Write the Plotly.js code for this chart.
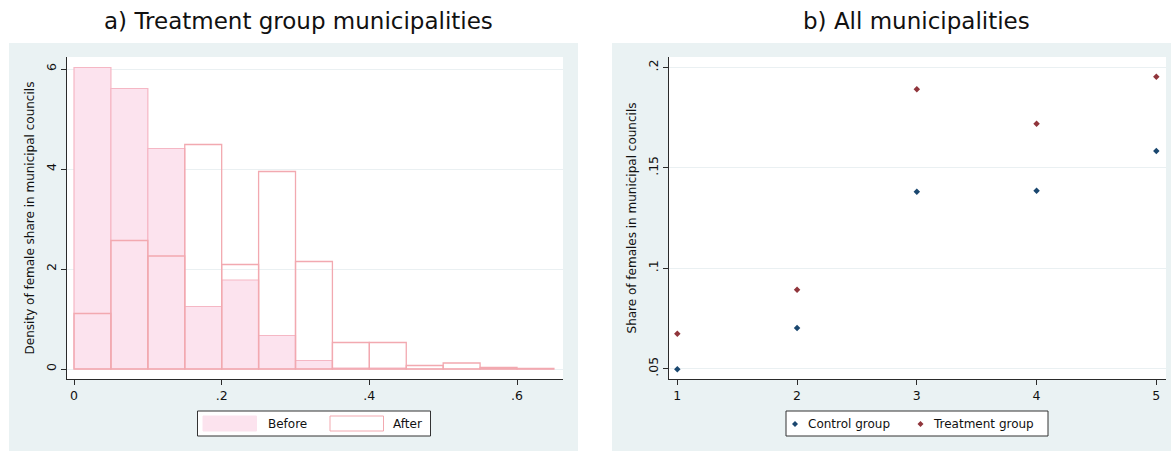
<!DOCTYPE html>
<html>
<head>
<meta charset="utf-8">
<script src="https://cdn.plot.ly/plotly-3.0.1.min.js"></script>
<style>html,body{margin:0;padding:0;background:#fff;}#chart{width:1171px;height:453px;}</style>
</head>
<body>
<div id="chart"></div>
<script>
// ---- data ----
const binLeft = [0, 0.05, 0.10, 0.15, 0.20, 0.25, 0.30, 0.35, 0.40, 0.45, 0.50, 0.55, 0.60];
const densityBefore = [6.03, 5.61, 4.41, 1.25, 1.78, 0.67, 0.17, 0.02, 0.02, 0, 0, 0, 0];
const densityAfter  = [1.11, 2.57, 2.26, 4.49, 2.09, 3.95, 2.15, 0.53, 0.53, 0.07, 0.12, 0.03, 0.01];
const binWidth = 0.05;

const periods = [1, 2, 3, 4, 5];
const controlShare   = [0.0497, 0.0703, 0.1381, 0.1386, 0.1583];
const treatmentShare = [0.0674, 0.0893, 0.1891, 0.1719, 0.1953];

const histTickVals = [0, 0.2, 0.4, 0.6];
const histTickText = ['0', '.2', '.4', '.6'];
const densTickVals = [0, 2, 4, 6];
const densTickText = ['0', '2', '4', '6'];
const periodTickVals = [1, 2, 3, 4, 5];
const periodTickText = ['1', '2', '3', '4', '5'];
const shareTickVals = [0.05, 0.10, 0.15, 0.20];
const shareTickText = ['.05', '.1', '.15', '.2'];

const titleA = 'a) Treatment group municipalities';
const titleB = 'b) All municipalities';
const yTitleA = 'Density of female share in municipal councils';
const yTitleB = 'Share of females in municipal councils';
const legendA = ['Before', 'After'];
const legendB = ['Control group', 'Treatment group'];

// ---- styling ----
const W = 1171, H = 453;
const FONT = 'DejaVu Sans, Liberation Sans, Arial, sans-serif';
const BG = '#EAF2F3';
const GRID = '#EAF0F2';
const AX = '#2a2a2a';
const PINK_FILL = '#FCE3EE';
const PINK_LINE = '#F5B7C4';
const AFTER_LINE = '#F2A9B0';
const NAVY = '#1A476F';
const MAROON = '#90353B';

const px = x => x / W;
const py = y => 1 - y / H;

const traces = [
  {
    type: 'bar', x: binLeft, y: densityBefore, width: binWidth, offset: 0,
    marker: {color: PINK_FILL, line: {color: PINK_LINE, width: 1.2}},
    xaxis: 'x', yaxis: 'y', showlegend: false, name: legendA[0]
  },
  {
    type: 'bar', x: binLeft, y: densityAfter, width: binWidth, offset: 0,
    marker: {color: 'rgba(0,0,0,0)', line: {color: AFTER_LINE, width: 1.3}},
    xaxis: 'x', yaxis: 'y', showlegend: false, name: legendA[1]
  },
  {
    type: 'scatter', mode: 'markers', x: periods, y: controlShare,
    marker: {symbol: 'diamond', size: 5, color: NAVY},
    xaxis: 'x2', yaxis: 'y2', showlegend: false, name: legendB[0]
  },
  {
    type: 'scatter', mode: 'markers', x: periods, y: treatmentShare,
    marker: {symbol: 'diamond', size: 5, color: MAROON},
    xaxis: 'x2', yaxis: 'y2', showlegend: false, name: legendB[1]
  }
];

const tickFont = {family: FONT, size: 12.5, color: '#111'};
const commonAxis = {
  showline: true, linecolor: AX, linewidth: 1,
  ticks: 'outside', ticklen: 5, tickwidth: 1, tickcolor: AX,
  zeroline: false, fixedrange: true, tickfont: tickFont
};
const yDomain = [py(379), py(57)];

const shapes = [];
// white strips outside the two grey graph regions
[[0, 0, W, 43], [0, 0, 9, H], [578, 0, 612, H], [0, 451, W, H]].forEach(r => {
  shapes.push({type: 'rect', xref: 'paper', yref: 'paper', layer: 'below',
    x0: px(r[0]), x1: px(r[2]), y0: py(r[3]), y1: py(r[1]),
    fillcolor: '#ffffff', line: {width: 0}});
});
// legend boxes
function box(x0, y0, x1, y1, fill, lineColor, lw) {
  shapes.push({type: 'rect', xref: 'paper', yref: 'paper', layer: 'above',
    x0: px(x0), x1: px(x1), y0: py(y1), y1: py(y0),
    fillcolor: fill, line: {color: lineColor, width: lw}});
}
box(197.5, 411, 430.5, 436, '#ffffff', '#333333', 1);
box(203, 416, 256.5, 431, PINK_FILL, PINK_FILL, 1);
box(330, 416, 383.5, 431, '#ffffff', AFTER_LINE, 1);
box(786, 411, 1048, 436, '#ffffff', '#333333', 1);
function diamond(cx, cy, r, color) {
  shapes.push({type: 'path', xref: 'paper', yref: 'paper', layer: 'above',
    path: `M${px(cx)},${py(cy - r)} L${px(cx + r)},${py(cy)} L${px(cx)},${py(cy + r)} L${px(cx - r)},${py(cy)} Z`,
    fillcolor: color, line: {width: 0}});
}
diamond(795, 424, 3, NAVY);
diamond(920.5, 424, 3, MAROON);

const annFont = {family: FONT, size: 12, color: '#111'};
const annotations = [
  {text: titleA, x: px(298), y: py(21), xref: 'paper', yref: 'paper', xanchor: 'center', yanchor: 'middle',
   showarrow: false, font: {family: FONT, size: 23, color: '#111'}},
  {text: titleB, x: px(916), y: py(21), xref: 'paper', yref: 'paper', xanchor: 'center', yanchor: 'middle',
   showarrow: false, font: {family: FONT, size: 23, color: '#111'}},
  {text: legendA[0], x: px(265.5), y: py(424), xref: 'paper', yref: 'paper', xanchor: 'left', yanchor: 'middle',
   showarrow: false, font: annFont},
  {text: legendA[1], x: px(390.5), y: py(424), xref: 'paper', yref: 'paper', xanchor: 'left', yanchor: 'middle',
   showarrow: false, font: annFont},
  {text: legendB[0], x: px(806), y: py(424), xref: 'paper', yref: 'paper', xanchor: 'left', yanchor: 'middle',
   showarrow: false, font: annFont},
  {text: legendB[1], x: px(931), y: py(424), xref: 'paper', yref: 'paper', xanchor: 'left', yanchor: 'middle',
   showarrow: false, font: annFont}
];

const layout = {
  width: W, height: H,
  margin: {l: 0, r: 0, t: 0, b: 0, pad: 0},
  paper_bgcolor: BG, plot_bgcolor: '#ffffff',
  font: {family: FONT, color: '#111'},
  showlegend: false, hovermode: false,
  barmode: 'overlay', bargap: 0,
  xaxis: Object.assign({}, commonAxis, {
    domain: [px(67), px(563)], range: [-0.0095, 0.6623], anchor: 'y',
    tickmode: 'array', tickvals: histTickVals, ticktext: histTickText, showgrid: false
  }),
  yaxis: Object.assign({}, commonAxis, {
    domain: yDomain, range: [-0.2, 6.24], anchor: 'x',
    tickmode: 'array', tickvals: densTickVals, ticktext: densTickText, tickangle: -90,
    showgrid: true, gridcolor: GRID, gridwidth: 1,
    title: {text: yTitleA, font: {family: FONT, size: 12, color: '#111'}, standoff: 6}
  }),
  xaxis2: Object.assign({}, commonAxis, {
    domain: [px(669), px(1166)], range: [0.9307, 5.081], anchor: 'y2',
    tickmode: 'array', tickvals: periodTickVals, ticktext: periodTickText, showgrid: false
  }),
  yaxis2: Object.assign({}, commonAxis, {
    domain: yDomain, range: [0.04487, 0.20513], anchor: 'x2',
    tickmode: 'array', tickvals: shareTickVals, ticktext: shareTickText, tickangle: -90,
    showgrid: true, gridcolor: GRID, gridwidth: 1,
    title: {text: yTitleB, font: {family: FONT, size: 12, color: '#111'}, standoff: 6}
  }),
  shapes: shapes,
  annotations: annotations
};

Plotly.newPlot('chart', traces, layout, {displayModeBar: false, staticPlot: true});
</script>
</body>
</html>
